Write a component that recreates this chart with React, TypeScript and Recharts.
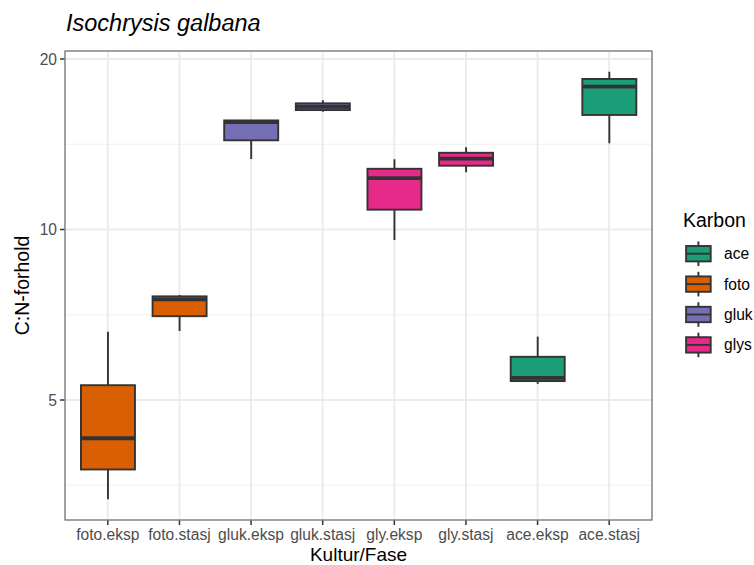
import React from 'react';
import { ComposedChart, Bar, XAxis, YAxis, CartesianGrid } from 'recharts';

const categories = ['foto.eksp', 'foto.stasj', 'gluk.eksp', 'gluk.stasj', 'gly.eksp', 'gly.stasj', 'ace.eksp', 'ace.stasj'];
const carbon = ['foto', 'foto', 'gluk', 'gluk', 'glys', 'glys', 'ace', 'ace'];
const whiskerLow = [3.34, 6.62, 13.32, 16.14, 9.58, 12.62, 5.34, 14.2];
const lowerQuartile = [3.77, 7.03, 14.37, 16.25, 10.84, 12.96, 5.4, 15.93];
const median = [4.28, 7.53, 15.48, 16.47, 12.32, 13.34, 5.47, 17.87];
const upperQuartile = [5.31, 7.62, 15.58, 16.7, 12.8, 13.66, 5.96, 18.44];
const whiskerHigh = [6.6, 7.66, 15.58, 16.91, 13.3, 13.97, 6.47, 18.99];

const legendKeys = ['ace', 'foto', 'gluk', 'glys'];
const yTicks = [5, 10, 20];
const yMinorTicks = [3.536, 7.071, 14.142];

const COLORS: Record<string, string> = {
  ace: '#1B9E77',
  foto: '#D95F02',
  gluk: '#7570B3',
  glys: '#E7298A',
};
const OUTLINE = '#333333';
const FONT = '"Liberation Sans", Arial, Helvetica, sans-serif';

const data = categories.map((name, i) => ({
  name,
  carbon: carbon[i],
  lo: whiskerLow[i],
  q1: lowerQuartile[i],
  med: median[i],
  q3: upperQuartile[i],
  hi: whiskerHigh[i],
}));

// The bar spans the whiskers; inner positions are placed on the same log scale
function BoxShape(props: any) {
  const { x, y, width, height, payload } = props;
  if (!payload || height == null) return null;
  const span = Math.log(payload.hi) - Math.log(payload.lo);
  const py = (v: number) => y + (height * (Math.log(payload.hi) - Math.log(v))) / span;
  const cx = x + width / 2;
  const yq3 = py(payload.q3);
  const yq1 = py(payload.q1);
  const ym = py(payload.med);
  return (
    <g>
      <line x1={cx} x2={cx} y1={y} y2={yq3} stroke={OUTLINE} strokeWidth={1.9} />
      <line x1={cx} x2={cx} y1={yq1} y2={y + height} stroke={OUTLINE} strokeWidth={1.9} />
      <rect
        x={x}
        y={yq3}
        width={width}
        height={Math.max(yq1 - yq3, 0.5)}
        fill={COLORS[payload.carbon]}
        stroke={OUTLINE}
        strokeWidth={1.9}
      />
      <line x1={x} x2={x + width} y1={ym} y2={ym} stroke={OUTLINE} strokeWidth={3.8} />
    </g>
  );
}

function LegendKey({ name, cy }: { name: string; cy: number }) {
  const cx = 698.4;
  return (
    <g>
      <line x1={cx} x2={cx} y1={cy - 12.3} y2={cy + 12.3} stroke={OUTLINE} strokeWidth={1.9} />
      <rect x={cx - 12.3} y={cy - 7.7} width={24.6} height={15.4} fill={COLORS[name]} stroke={OUTLINE} strokeWidth={1.9} />
      <line x1={cx - 12.3} x2={cx + 12.3} y1={cy} y2={cy} stroke={OUTLINE} strokeWidth={1.9} />
      <text x={724} y={cy + 5.5} fontSize={15.6} fill="#000">
        {name}
      </text>
    </g>
  );
}

export default function App() {
  return (
    <div
      style={{
        position: 'absolute',
        left: 0,
        top: 0,
        width: 754,
        height: 565,
        overflow: 'hidden',
        fontFamily: FONT,
        background: '#fff',
      }}
    >
      <ComposedChart
        width={754}
        height={565}
        data={data}
        margin={{ top: 51, right: 102, left: 0, bottom: 0 }}
        barCategoryGap="12.5%"
      >
        <CartesianGrid horizontalValues={yMinorTicks} vertical={false} stroke="#f0f0f0" strokeWidth={1} />
        <CartesianGrid stroke="#ebebeb" strokeWidth={1.9} />
        <XAxis
          dataKey="name"
          height={45}
          padding={{ left: 7, right: 7 }}
          axisLine={false}
          tickSize={5}
          tickMargin={4}
          tickLine={{ stroke: OUTLINE, strokeWidth: 1.5 }}
          tick={{ fill: '#4d4d4d', fontSize: 15.6 }}
          interval={0}
        />
        <YAxis
          scale="log"
          domain={[3.07, 20.66]}
          allowDataOverflow
          ticks={yTicks}
          interval={0}
          width={65}
          axisLine={false}
          tickSize={5}
          tickMargin={3}
          tickLine={{ stroke: OUTLINE, strokeWidth: 1.5 }}
          tick={{ fill: '#4d4d4d', fontSize: 15.6 }}
        />
        <Bar dataKey={(d: any) => [d.lo, d.hi]} shape={BoxShape} isAnimationActive={false} />
      </ComposedChart>
      <svg
        width={754}
        height={565}
        style={{ position: 'absolute', left: 0, top: 0, pointerEvents: 'none', fontFamily: FONT }}
      >
        <rect x={65} y={51} width={587} height={469} fill="none" stroke="#7a7a7a" strokeWidth={1.3} />
        <text x={66} y={31} fontSize={23.5} fontStyle="italic" fill="#000">
          Isochrysis galbana
        </text>
        <text x={358.5} y={561} fontSize={19} textAnchor="middle" fill="#000">
          Kultur/Fase
        </text>
        <text transform="translate(29,285.5) rotate(-90)" fontSize={19.5} textAnchor="middle" fill="#000">
          C:N-forhold
        </text>
        <text x={683} y={227} fontSize={19.5} fill="#000">
          Karbon
        </text>
        {legendKeys.map((k, i) => (
          <LegendKey key={k} name={k} cy={253.7 + i * 30.4} />
        ))}
      </svg>
    </div>
  );
}
